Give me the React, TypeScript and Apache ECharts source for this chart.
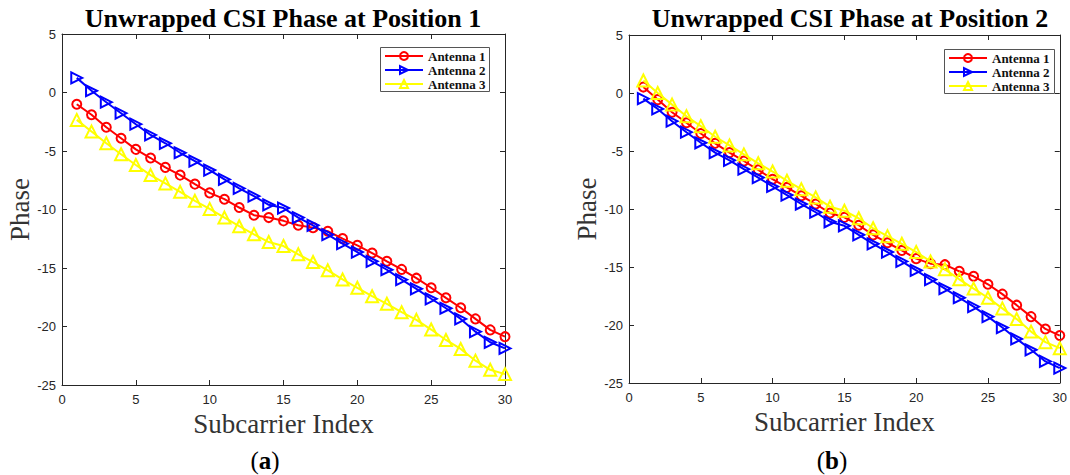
import React, { useEffect, useRef } from "react";
import * as echarts from "echarts";

const subcarriers = Array.from({ length: 30 }, (_, i) => i + 1);
const seriesNames = ["Antenna 1", "Antenna 2", "Antenna 3"];
const titles = ["Unwrapped CSI Phase at Position 1", "Unwrapped CSI Phase at Position 2"];
const captions = ["a", "b"];
const xLabel = "Subcarrier Index";
const yLabel = "Phase";

const pos1Ant1 = [-1.0, -1.9, -2.97, -3.91, -4.86, -5.6, -6.4, -7.06, -7.83, -8.58, -9.12, -9.83, -10.49, -10.69, -10.97, -11.35, -11.55, -11.86, -12.49, -13.06, -13.72, -14.43, -15.12, -15.87, -16.69, -17.55, -18.4, -19.35, -20.29, -20.87];
const pos1Ant2 = [1.25, 0.15, -0.83, -1.77, -2.71, -3.63, -4.34, -5.15, -5.86, -6.63, -7.43, -8.2, -8.86, -9.6, -9.88, -10.69, -11.35, -12.15, -12.92, -13.64, -14.43, -15.15, -16.0, -16.78, -17.63, -18.44, -19.35, -20.44, -21.35, -21.87];
const pos1Ant3 = [-2.34, -3.34, -4.34, -5.28, -6.2, -7.06, -7.77, -8.49, -9.26, -9.95, -10.69, -11.43, -12.12, -12.78, -13.12, -13.83, -14.49, -15.2, -15.98, -16.69, -17.41, -18.06, -18.78, -19.43, -20.26, -21.15, -21.92, -22.92, -23.7, -24.07];

const pos2Ant1 = [0.51, -0.57, -1.66, -2.57, -3.49, -4.34, -5.14, -5.86, -6.63, -7.43, -8.14, -8.86, -9.57, -10.35, -10.72, -11.4, -12.23, -12.91, -13.57, -14.28, -14.71, -14.8, -15.37, -15.8, -16.49, -17.34, -18.29, -19.28, -20.34, -20.91];
const pos2Ant2 = [-0.49, -1.37, -2.43, -3.38, -4.29, -5.14, -5.8, -6.57, -7.29, -8.06, -8.8, -9.57, -10.28, -11.1, -11.45, -12.23, -13.0, -13.71, -14.52, -15.29, -16.08, -16.86, -17.65, -18.42, -19.28, -20.22, -21.2, -22.14, -23.14, -23.71];
const pos2Ant3 = [1.08, 0.0, -1.0, -2.0, -2.86, -3.77, -4.52, -5.29, -6.06, -6.77, -7.57, -8.29, -9.0, -9.8, -10.15, -10.8, -11.66, -12.34, -13.0, -13.71, -14.52, -15.2, -16.06, -16.86, -17.65, -18.57, -19.49, -20.57, -21.48, -22.0];

const panels = [
  [pos1Ant1, pos1Ant2, pos1Ant3],
  [pos2Ant1, pos2Ant2, pos2Ant3],
];

const colors = ["#ff0000", "#0000ff", "#ffff00"];
const symbols = ["circle", "triangle", "triangle"];
const symbolRotates = [0, -90, 0];
const symbolSizes = [9, 11, 12];

const SERIF = "'Liberation Serif', 'Times New Roman', serif";
const SANS = "'Liberation Sans', Arial, sans-serif";
const AXIS_COLOR = "#262626";

const grids = [
  { left: 62, top: 34, width: 443, height: 351 },
  { left: 629, top: 35, width: 438, height: 348 },
];
const legendBoxes = [
  { x: 380.5, y: 47.5, width: 109, height: 44 },
  { x: 944.5, y: 49.5, width: 110, height: 44 },
];
const titleCenters = [283, 850];
const captionCenters = [265, 832];

export default function App() {
  const ref = useRef<HTMLDivElement>(null);
  useEffect(() => {
    if (!ref.current) return;
    const chart = echarts.init(ref.current, null, { renderer: "svg" });
    const xAxes: any[] = [];
    const yAxes: any[] = [];
    const series: any[] = [];
    const legends: any[] = [];
    const graphics: any[] = [];
    grids.forEach((g, gi) => {
      const baseX = {
        type: "value",
        gridIndex: gi,
        min: 0,
        max: 30,
        interval: 5,
        axisLine: { show: true, onZero: false, lineStyle: { color: AXIS_COLOR, width: 1 } },
        axisTick: { show: true, inside: true, length: 5, lineStyle: { color: AXIS_COLOR } },
        splitLine: { show: false },
      };
      xAxes.push({
        ...baseX,
        position: "bottom",
        axisLabel: { color: AXIS_COLOR, fontFamily: SANS, fontSize: 13, margin: 8 },
        name: xLabel,
        nameLocation: "middle",
        nameGap: 24,
        nameTextStyle: { fontFamily: SERIF, fontSize: 27, color: "#333" },
      });
      xAxes.push({ ...baseX, position: "top", axisLabel: { show: false } });
      const baseY = {
        type: "value",
        gridIndex: gi,
        min: -25,
        max: 5,
        interval: 5,
        axisLine: { show: true, onZero: false, lineStyle: { color: AXIS_COLOR, width: 1 } },
        axisTick: { show: true, inside: true, length: 5, lineStyle: { color: AXIS_COLOR } },
        splitLine: { show: false },
      };
      yAxes.push({
        ...baseY,
        position: "left",
        axisLabel: { color: AXIS_COLOR, fontFamily: SANS, fontSize: 13, margin: 6 },
        name: yLabel,
        nameLocation: "middle",
        nameGap: 28,
        nameTextStyle: { fontFamily: SERIF, fontSize: 27, color: "#333" },
      });
      yAxes.push({ ...baseY, position: "right", axisLabel: { show: false } });

      panels[gi].forEach((vals, si) => {
        series.push({
          type: "line",
          name: seriesNames[si],
          xAxisIndex: gi * 2,
          yAxisIndex: gi * 2,
          data: subcarriers.map((x, i) => [x, vals[i]]),
          symbol: symbols[si],
          symbolSize: symbolSizes[si],
          symbolRotate: symbolRotates[si],
          showAllSymbol: true,
          color: colors[si],
          lineStyle: { color: colors[si], width: 2 },
          itemStyle: { color: "rgba(255,255,255,0)", borderColor: colors[si], borderWidth: 2 },
          z: 2 + si,
        });
      });

      const box = legendBoxes[gi];
      graphics.push({
        type: "rect",
        z: 50,
        shape: { x: box.x, y: box.y, width: box.width, height: box.height },
        style: { fill: "#fff", stroke: "#555", lineWidth: 1 },
      });

      legends.push({
        show: true,
        orient: "vertical",
        left: box.x - 0.5,
        top: box.y - 0.5,
        data: seriesNames,
        itemWidth: 38,
        itemHeight: 10,
        itemGap: 0,
        padding: [2, 3, 2, 4],
        z: 60,
        backgroundColor: "transparent",
        borderWidth: 0,
        selectedMode: false,
        textStyle: {
          fontFamily: SERIF,
          fontWeight: "bold",
          fontSize: 13,
          color: "#111",
          lineHeight: 14,
        },
      });

      graphics.push({
        type: "text",
        x: titleCenters[gi],
        y: 18,
        style: {
          text: titles[gi],
          align: "center",
          verticalAlign: "middle",
          fontFamily: SERIF,
          fontWeight: "bold",
          fontSize: 26,
          fill: "#000",
        },
      });
      graphics.push({
        type: "text",
        x: captionCenters[gi],
        y: 460,
        style: {
          text: "{p|(}{b|" + captions[gi] + "}{p|)}",
          align: "center",
          verticalAlign: "middle",
          rich: {
            p: { fontFamily: SERIF, fontSize: 25, fill: "#000", color: "#000" },
            b: { fontFamily: SERIF, fontSize: 25, fontWeight: "bold", fill: "#000", color: "#000" },
          },
        },
      });
    });

    chart.setOption({
      animation: false,
      backgroundColor: "#fff",
      grid: grids.map((g) => ({ ...g, containLabel: false })),
      xAxis: xAxes,
      yAxis: yAxes,
      legend: legends,
      series,
      graphic: graphics,
    });
    return () => chart.dispose();
  }, []);
  return (
    <div
      ref={ref}
      style={{ position: "fixed", left: 0, top: 0, width: 1070, height: 475 }}
    />
  );
}
